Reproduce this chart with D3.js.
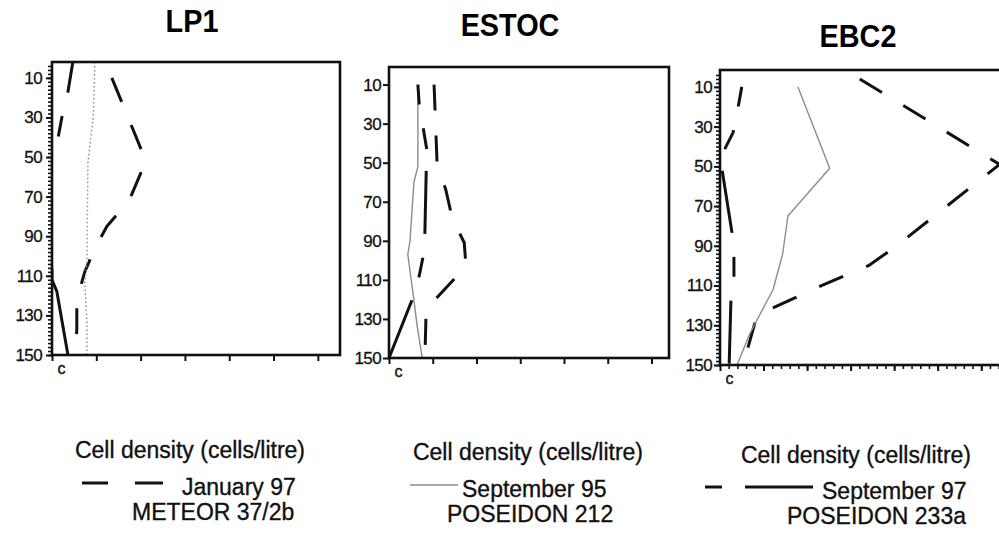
<!DOCTYPE html>
<html>
<head>
<meta charset="utf-8">
<script src="https://cdn.jsdelivr.net/npm/d3@7"></script>
<style>
  html, body { margin: 0; padding: 0; background: #fff; }
  svg { display: block; font-family: "Liberation Sans", Arial, sans-serif; }
</style>
</head>
<body>
<svg id="chart" width="999" height="536"></svg>
<script>
// ---------------- DATA ----------------
// depth (m) on the y axis, cell density (cells/litre, unlabelled) on x
const panelNames = ["LP1", "ESTOC", "EBC2"];
const depthTicks = [10, 30, 50, 70, 90, 110, 130, 150];
const densityTicks = [0, 100, 200, 300, 400, 500, 600];
const originLabel = "c";
const axisTitle = "Cell density (cells/litre)";
const legendSeries = ["January 97", "September 95", "September 97"];
const legendCruises = ["METEOR 37/2b", "POSEIDON 212", "POSEIDON 233a"];

// [depth, density]
const lp1Jan97 = [[10,135],[52,212],[72,174],[85,124],[96,97],[108,74],[122,56],[136,56],[150,54]];
const lp1Sep95 = [[2,97],[30,93],[53,81],[103,79],[113,74],[134,79],[150,79]];
const lp1Sep97 = [[2,47],[17,36],[29,23],[40,14],[53,0],[112,0],[118,11],[150,36]];

const estocJan97 = [[10,103],[51,110],[64,130],[78,144],[91,172],[103,176],[125,85],[150,82]];
const estocSep95 = [[10,66],[52,66],[60,57],[90,48],[97,43],[117,55],[133,64],[150,76]];
const estocSep97 = [[10,66],[20,69],[32,78],[44,87],[55,85],[86,82],[98,78],[108,69],[119,55],[150,0]];

const ebc2Jan97 = [[6,321],[49,642],[90,406],[100,341],[110,233],[125,85],[150,53]];
const ebc2Sep95 = [[10,179],[51,252],[75,156],[94,144],[112,122],[134,69],[150,39]];
const ebc2Sep97 = [[10,50],[21,41],[33,30],[43,7],[52,5],[84,28],[96,32],[106,32],[118,25],[150,21]];

// ---------------- LAYOUT / STYLE ----------------
const svg = d3.select("#chart");

const styles = {
  jan97: { stroke: "#111", width: 3, dash: "26 25" },
  sep95: { stroke: "#8c8c8c", width: 1.4, dash: null },
  sep97: { stroke: "#111", width: 3, dash: "20 24 21 22 63 24 20 24 63 24" }
};

const panels = [
  { name: panelNames[0], left: 52, right: 340, top: 62, bottom: 355, yMin: 2, xMax: 650,
    minorY: true, minorX: false, titleX: 192, titleY: 32,
    series: [[lp1Jan97, "jan97"], [lp1Sep95, "sep95", "1.6 2.4"], [lp1Sep97, "sep97", "31 24 21 133 90 10"]] },
  { name: panelNames[1], left: 389, right: 669, top: 67, bottom: 358, yMin: 1, xMax: 640,
    minorY: false, minorX: false, titleX: 510, titleY: 36,
    series: [[estocJan97, "jan97"], [estocSep95, "sep95"], [estocSep97, "sep97"]] },
  { name: panelNames[2], left: 720, right: 1003, top: 70, bottom: 365, yMin: 1.5, xMax: 650,
    minorY: true, minorX: true, titleX: 858, titleY: 47,
    series: [[ebc2Jan97, "jan97"], [ebc2Sep95, "sep95"], [ebc2Sep97, "sep97"]] }
];

panels.forEach((p, i) => {
  const g = svg.append("g");
  const x = d3.scaleLinear().domain([0, p.xMax]).range([p.left, p.right]);
  const y = d3.scaleLinear().domain([p.yMin, 150]).range([p.top, p.bottom]);

  // title
  g.append("text")
    .attr("transform", `translate(${p.titleX},${p.titleY}) scale(0.9,1)`)
    .attr("text-anchor", "middle")
    .attr("font-size", 32).attr("font-weight", "bold")
    .text(p.name);

  // clip
  const clipId = "clip" + i;
  g.append("clipPath").attr("id", clipId)
    .append("rect").attr("x", p.left).attr("y", p.top)
    .attr("width", p.right - p.left).attr("height", p.bottom - p.top);

  // minor y ticks
  if (p.minorY) {
    g.append("g").attr("transform", `translate(${p.left},0)`)
      .call(d3.axisLeft(y).tickValues(d3.range(4, 151, 2)).tickSize(4).tickFormat(""))
      .call(a => a.select(".domain").remove())
      .call(a => a.selectAll("line").attr("stroke-width", 1.6).attr("stroke", "#111"));
  }
  // major y axis
  const ya = g.append("g").attr("transform", `translate(${p.left},0)`)
    .call(d3.axisLeft(y).tickValues(depthTicks).tickSize(6).tickPadding(i === 0 ? 4 : 2));
  ya.select(".domain").remove();
  ya.selectAll("line").attr("stroke-width", 2).attr("stroke", "#111");
  ya.selectAll("text").attr("font-size", 17).attr("fill", "#111")
    .attr("stroke", "#111").attr("stroke-width", 0.3)
    .attr("letter-spacing", -0.6);

  // minor x ticks
  if (p.minorX) {
    g.append("g").attr("transform", `translate(0,${p.bottom})`)
      .call(d3.axisBottom(x).tickValues(d3.range(20, 651, 20)).tickSize(4).tickFormat(""))
      .call(a => a.select(".domain").remove())
      .call(a => a.selectAll("line").attr("stroke-width", 1.6).attr("stroke", "#111"));
  }
  // major x axis
  const xa = g.append("g").attr("transform", `translate(0,${p.bottom})`)
    .call(d3.axisBottom(x).tickValues(densityTicks).tickSize(6)
      .tickFormat(d => d === 0 ? originLabel : ""));
  xa.select(".domain").remove();
  xa.selectAll("line").attr("stroke-width", 2).attr("stroke", "#111");
  xa.selectAll("text").attr("font-size", 16).attr("fill", "#111")
    .attr("stroke", "#111").attr("stroke-width", 0.4)
    .attr("dx", 9).attr("dy", 10);

  // profile lines
  const line = d3.line().x(d => x(d[1])).y(d => y(d[0]));
  const lg = g.append("g").attr("clip-path", `url(#${clipId})`);
  p.series.forEach(([data, key, dashOverride]) => {
    const s = styles[key];
    lg.append("path").datum(data)
      .attr("d", line)
      .attr("fill", "none")
      .attr("stroke", s.stroke)
      .attr("stroke-width", s.width)
      .attr("stroke-dasharray", dashOverride || s.dash)
      .attr("stroke-linejoin", "round");
  });

  // frame
  g.append("rect").attr("x", p.left).attr("y", p.top)
    .attr("width", p.right - p.left).attr("height", p.bottom - p.top)
    .attr("fill", "none").attr("stroke", "#111").attr("stroke-width", 2.6);
});

// ---------------- LEGENDS ----------------
const legends = [
  { cx: 190, headY: 458, sampleY: 483, textX: 182, textY: 495, cruiseX: 132, cruiseY: 520,
    segs: [[82, 108], [135, 163]], key: "jan97" },
  { cx: 528, headY: 460, sampleY: 485, textX: 462, textY: 497, cruiseX: 447, cruiseY: 522,
    segs: [[410, 458]], key: "sep95" },
  { cx: 856, headY: 463, sampleY: 487, textX: 822, textY: 499, cruiseX: 787, cruiseY: 524,
    segs: [[705, 722], [745, 813]], key: "sep97" }
];

legends.forEach((l, i) => {
  const g = svg.append("g").attr("fill", "#111").attr("font-size", 23)
    .attr("stroke", "#111").attr("stroke-width", 0.35);
  g.append("text").attr("x", l.cx).attr("y", l.headY).attr("text-anchor", "middle")
    .text(axisTitle);
  const s = styles[l.key];
  l.segs.forEach(([a, b]) => {
    g.append("line").attr("x1", a).attr("x2", b).attr("y1", l.sampleY).attr("y2", l.sampleY)
      .attr("stroke", s.stroke).attr("stroke-width", s.width);
  });
  g.append("text").attr("x", l.textX).attr("y", l.textY).text(legendSeries[i]);
  g.append("text").attr("x", l.cruiseX).attr("y", l.cruiseY).text(legendCruises[i]);
});
</script>
</body>
</html>
